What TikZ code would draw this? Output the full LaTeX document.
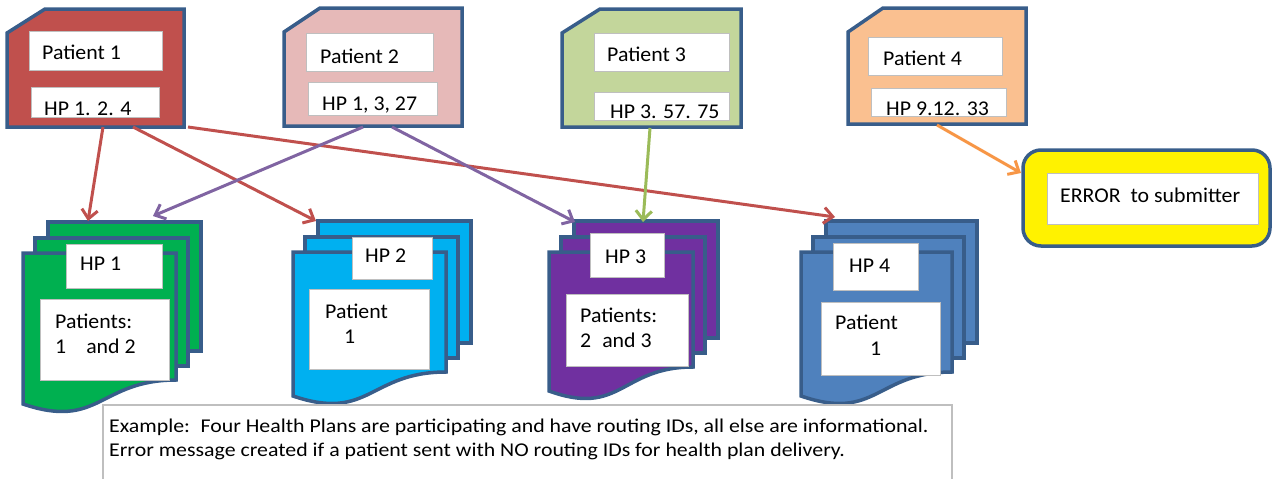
\documentclass[tikz,border=0pt]{standalone}
\usepackage{fontspec}
\setmainfont{Carlito}
\newfontfamily\lblfont{Carlito}[FakeStretch=1.04]
\newfontfamily\notefont{Carlito}[FakeStretch=1.12]
\usetikzlibrary{arrows.meta}
\definecolor{bord}{HTML}{385D8A}
\definecolor{boxgray}{HTML}{BFBFBF}
\definecolor{pone}{HTML}{C0504D}
\definecolor{ptwo}{HTML}{E6B9B8}
\definecolor{pthree}{HTML}{C3D69B}
\definecolor{pfour}{HTML}{FAC090}
\definecolor{hone}{HTML}{00B050}
\definecolor{htwo}{HTML}{00B0F0}
\definecolor{hthree}{HTML}{7030A0}
\definecolor{hfour}{HTML}{4F81BD}
\definecolor{ared}{HTML}{C0504D}
\definecolor{apurple}{HTML}{8064A2}
\definecolor{agreen}{HTML}{9BBB59}
\definecolor{aorange}{HTML}{F79646}
\newcommand\patcard[7]{% x0 y0 x1 y1 cuty cutx colour
  \draw[card, fill=#7] (#1,#5) -- (#6,#2) -- (#3,#2) -- (#3,#4) -- (#1,#4) -- cycle;}
\newcommand\hpstack[5]{% xf yt w yR colour
  \draw[card, fill=#5] (#1+25,#2-31) rectangle (#1+#3+25,#4-29);
  \draw[card, fill=#5] (#1+12,#2-15) rectangle (#1+#3+12,#4-14);
  \draw[card, fill=#5] (#1,#2) -- (#1+#3,#2) -- (#1+#3,#4)
     .. controls (#1+#3/2,#4) and (#1+#3/2,#4+50) .. (#1,#4+24) -- cycle;}
\newcommand\wb[5]{\node[wbox, minimum width=#4pt, minimum height=#5pt] (#1) at (#2,#3) {};}
\begin{document}
\begin{tikzpicture}[x=1pt,y=-1pt,
  card/.style={draw=bord, line width=3.5pt, line join=miter},
  wbox/.style={draw=boxgray, fill=white, line width=1pt, inner sep=0pt, outer sep=0pt, anchor=north west},
  lbl/.style={anchor=base west, inner sep=0pt, font=\lblfont\fontsize{21}{25}\selectfont},
  small/.style={anchor=base west, inner sep=0pt, font=\notefont\fontsize{19.5}{23}\selectfont},
  arr/.style={line width=3pt, -{Straight Barb[length=9pt,width=16pt]}}]
\useasboundingbox (0,0) rectangle (1272,479);

% patient cards
\patcard{7}{9}{184}{127}{33}{45}{pone}
\patcard{284}{8}{462}{126}{32}{320}{ptwo}
\patcard{562}{9}{741}{127}{33}{600}{pthree}
\patcard{848}{8}{1026}{124}{32}{883}{pfour}

\wb{p1a}{29}{31}{133}{39}
\wb{p1b}{31}{87}{128}{30}
\wb{p2a}{306}{33}{127}{38}
\wb{p2b}{308}{82}{129}{33}
\wb{p3a}{594}{33}{135}{38}
\wb{p3b}{594}{92}{135}{28}
\wb{p4a}{868}{37}{134}{38}
\wb{p4b}{871}{88}{135}{28}

\node[lbl] (t1a) at (42,59) {Patient 1};
\node[lbl] (t1b) at (44,115) {HP 1. 2. 4};
\node[lbl] (t2a) at (320,63) {Patient 2};
\node[lbl] (t2b) at (322,110) {HP 1, 3, 27};
\node[lbl] (t3a) at (607,61) {Patient 3};
\node[lbl] (t3b) at (610,118) {HP 3. 57. 75};
\node[lbl] (t4a) at (883,65) {Patient 4};
\node[lbl] (t4b) at (886,115) {HP 9.12. 33};

% health plan stacks
\hpstack{23}{253}{153}{380}{hone}
\hpstack{293}{252}{153}{372}{htwo}
\hpstack{549}{252}{144}{367}{hthree}
\hpstack{801}{252}{151}{372}{hfour}

\wb{h1a}{66}{244}{96}{44}
\wb{h1b}{40}{299}{129}{81}
\wb{h2a}{352}{237}{80}{42}
\wb{h2b}{309}{289}{120}{80}
\wb{h3a}{590}{233}{74}{44}
\wb{h3b}{566}{294}{122}{72}
\wb{h4a}{833}{243}{85}{47}
\wb{h4b}{821}{302}{119}{73}

\node[lbl] (u1a) at (80,270) {HP 1};
\node[lbl] (u1b) at (55,328) {Patients:};
\node[lbl] (u1c) at (55,353) {1\hspace{20pt}and 2};
\node[lbl] (u2a) at (365,262) {HP 2};
\node[lbl] (u2b) at (325,318) {Patient};
\node[lbl] (u2c) at (344,343) {1};
\node[lbl] (u3a) at (605,263) {HP 3};
\node[lbl] (u3b) at (580,322) {Patients:};
\node[lbl] (u3c) at (580,347) {2\hspace{11pt}and 3};
\node[lbl] (u4a) at (849,272) {HP 4};
\node[lbl] (u4b) at (835,329) {Patient};
\node[lbl] (u4c) at (870,355) {1};

% error box
\draw[card, fill=yellow, rounded corners=18pt] (1023,150) rectangle (1270,246);
\wb{errw}{1047}{173}{211}{51}
\node[lbl] (errt) at (1060,202) {ERROR\hspace{5pt} to submitter};

% note box
\draw[boxgray, line width=1.5pt] (103,482) -- (103,405) -- (952,405) -- (952,482);
\node[small] (n1) at (109,432) {Example:\hspace{4pt} Four Health Plans are participating and have routing IDs, all else are informational.};
\node[small] (n2) at (109,456) {Error message created if a patient sent with NO routing IDs for health plan delivery.};

% connector end points
\coordinate (r1s) at (103,127); \coordinate (r1e) at (88,221);
\coordinate (r2s) at (133,127); \coordinate (r2e) at (316,221);
\coordinate (r3s) at (188,127); \coordinate (r3e) at (835,217);
\coordinate (v1s) at (363,127); \coordinate (v1e) at (153,216);
\coordinate (v2s) at (392,127); \coordinate (v2e) at (575,222);
\coordinate (g1s) at (650,128); \coordinate (g1e) at (643,222);
\coordinate (o1s) at (937,125); \coordinate (o1e) at (1021,173);

\draw[arr, ared] (r1s) -- (r1e);
\draw[arr, ared] (r2s) -- (r2e);
\draw[arr, ared] (r3s) -- (r3e);
\draw[arr, apurple] (v1s) -- (v1e);
\draw[arr, apurple] (v2s) -- (v2e);
\draw[arr, agreen] (g1s) -- (g1e);
\draw[arr, aorange] (o1s) -- (o1e);
\end{tikzpicture}
\end{document}
